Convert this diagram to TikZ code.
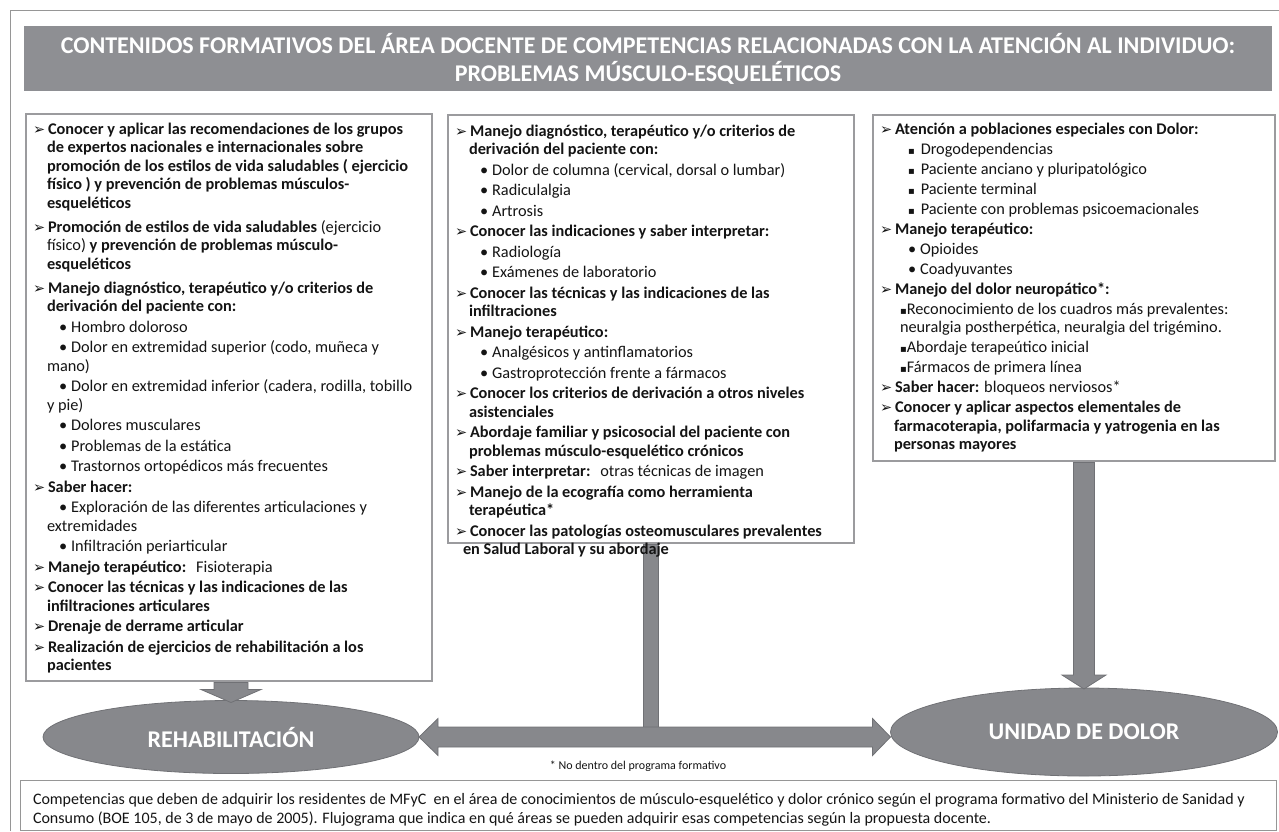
\documentclass[tikz,border=0pt]{standalone}
\usepackage{fontspec}
\setmainfont{Carlito}
\newfontfamily\dejavu{DejaVu Sans}
\usetikzlibrary{calc,shapes.geometric}
\definecolor{fillgray}{RGB}{135,136,140}
\definecolor{edgegray}{RGB}{112,113,117}
\definecolor{bannergray}{RGB}{142,143,147}
\definecolor{panelgray}{RGB}{155,155,158}
\definecolor{framegray}{RGB}{150,150,150}
\definecolor{txt}{RGB}{20,20,20}
\newcommand{\ar}{\makebox[15pt][l]{\dejavu\mdseries\fontsize{14.5}{14.5}\selectfont ➢}}
\newcommand{\nm}[1]{{\mdseries #1}}
\newcommand{\bl}{•\hspace{4pt}}
\newcommand{\sqb}{{\dejavu\fontsize{10}{10}\selectfont ▪}}
\begin{document}
\begin{tikzpicture}[x=1pt,y=-1pt,
  every node/.style={inner sep=0pt, outer sep=0pt},
  panel/.style={draw=panelgray, line width=2.5pt, fill=white, rectangle, anchor=north west},
  txtblock/.style={anchor=north west, align=left, font=\bfseries\fontsize{16.3}{18.5}\selectfont, text=txt},
  oval/.style={ellipse, fill=fillgray, draw=edgegray, line width=0.8pt, text=white, font=\bfseries\fontsize{24}{28}\selectfont},
  blockarrow/.style={fill=fillgray, draw=edgegray, line width=0.8pt, line join=miter},
]
\useasboundingbox (0,0) rectangle (1279,831);
% outer frame
\draw[framegray, line width=0.8pt] (10,831) -- (10,10) -- (1279,10);
% title banner
\node[fill=bannergray, minimum width=1248pt, minimum height=65pt, text=white, align=center,
      font=\bfseries\fontsize{24}{28}\selectfont] (title) at (648,58.5)
  {CONTENIDOS FORMATIVOS DEL ÁREA DOCENTE DE COMPETENCIAS RELACIONADAS CON LA ATENCIÓN AL INDIVIDUO:\\
   PROBLEMAS MÚSCULO-ESQUELÉTICOS};
% panels
\node[panel, minimum width=406pt, minimum height=567pt] (lbox) at (26,114) {};
\node[panel, minimum width=406pt, minimum height=428pt] (mbox) at (448,115) {};
\node[panel, minimum width=402pt, minimum height=346pt] (rbox) at (873,115) {};
% ovals
\node[oval, minimum width=376pt, minimum height=73pt] (reh) at (231,737) {REHABILITACIÓN};
\node[oval, minimum width=387pt, minimum height=88pt] (dol) at (1084,732) {UNIDAD DE DOLOR};
% left arrow
\draw[blockarrow] ($(lbox.south -| reh.north)+(-17,1.5)$) -- ($(reh.north)+(-17,-11)$) -- ($(reh.north)+(-30,-11)$)
  -- ($(reh.north)+(0,2)$) -- ($(reh.north)+(30,-11)$) -- ($(reh.north)+(17,-11)$) -- ($(lbox.south -| reh.north)+(17,1.5)$) -- cycle;
% right arrow
\draw[blockarrow] ($(rbox.south -| dol.north)+(-10.5,1.5)$) -- ($(dol.north)+(-10.5,-13)$) -- ($(dol.north)+(-22,-13)$)
  -- ($(dol.north)+(0,1)$) -- ($(dol.north)+(22,-13)$) -- ($(dol.north)+(10.5,-13)$) -- ($(rbox.south -| dol.north)+(10.5,1.5)$) -- cycle;
% middle bar and double arrow
\coordinate (jt) at ($(mbox.south |- reh.east)+(0,-10)$);
\draw[blockarrow] ($(mbox.south)+(-7.5,1.5)$) rectangle ($(jt)+(7.5,0)$);
\draw[blockarrow] (reh.east) -- ($(reh.east)+(19,-18.5)$) -- ($(reh.east)+(19,-10)$)
  -- ($(dol.west |- reh.east)+(-18,-10)$) -- ($(dol.west |- reh.east)+(-18,-18.5)$) -- (dol.west |- reh.east)
  -- ($(dol.west |- reh.east)+(-18,18.5)$) -- ($(dol.west |- reh.east)+(-18,10)$)
  -- ($(reh.east)+(19,10)$) -- ($(reh.east)+(19,18.5)$) -- cycle;
% left text
\node[txtblock] (ltext) at (33,118) {\rule{0pt}{16pt}\ar Conocer y aplicar las recomendaciones de los grupos\\
\hspace*{14pt}de expertos nacionales e internacionales sobre\\
\hspace*{14pt}promoción de los estilos de vida saludables ( ejercicio\\
\hspace*{14pt}físico ) y prevención de problemas músculos-\\
\hspace*{14pt}esqueléticos\\[5.5pt]
\ar Promoción de estilos de vida saludables \nm{(ejercicio}\\
\hspace*{14pt}\nm{físico)} y prevención de problemas músculo-\\
\hspace*{14pt}esqueléticos\\[5.5pt]
\ar Manejo diagnóstico, terapéutico y/o criterios de\\
\hspace*{14pt}derivación del paciente con:\\[2pt]
\hspace*{26pt}\nm{\bl Hombro doloroso}\\[2pt]
\hspace*{26pt}\nm{\bl Dolor en extremidad superior (codo, muñeca y}\\
\hspace*{14pt}\nm{mano)}\\[2pt]
\hspace*{26pt}\nm{\bl Dolor en extremidad inferior (cadera, rodilla, tobillo}\\
\hspace*{14pt}\nm{y pie)}\\[2pt]
\hspace*{26pt}\nm{\bl Dolores musculares}\\[2pt]
\hspace*{26pt}\nm{\bl Problemas de la estática}\\[2pt]
\hspace*{26pt}\nm{\bl Trastornos ortopédicos más frecuentes}\\[2pt]
\ar Saber hacer:\\[2pt]
\hspace*{26pt}\nm{\bl Exploración de las diferentes articulaciones y}\\
\hspace*{14pt}\nm{extremidades}\\[2pt]
\hspace*{26pt}\nm{\bl Infiltración periarticular}\\[2pt]
\ar Manejo terapéutico: \nm{ Fisioterapia}\\[2pt]
\ar Conocer las técnicas y las indicaciones de las\\
\hspace*{14pt}infiltraciones articulares\\[2pt]
\ar Drenaje de derrame articular\\[2pt]
\ar Realización de ejercicios de rehabilitación a los\\
\hspace*{14pt}pacientes};
% middle text
\node[txtblock] (mtext) at (455,120) {\rule{0pt}{16pt}\ar Manejo diagnóstico, terapéutico y/o criterios de\\
\hspace*{14pt}derivación del paciente con:\\[2pt]
\hspace*{25pt}\nm{\bl Dolor de columna (cervical, dorsal o lumbar)}\\[2pt]
\hspace*{25pt}\nm{\bl Radiculalgia}\\[2pt]
\hspace*{25pt}\nm{\bl Artrosis}\\[2pt]
\ar Conocer las indicaciones y saber interpretar:\\[2pt]
\hspace*{25pt}\nm{\bl Radiología}\\[2pt]
\hspace*{25pt}\nm{\bl Exámenes de laboratorio}\\[2pt]
\ar Conocer las técnicas y las indicaciones de las\\
\hspace*{14pt}infiltraciones\\[2pt]
\ar Manejo terapéutico:\\[2pt]
\hspace*{25pt}\nm{\bl Analgésicos y antinflamatorios}\\[2pt]
\hspace*{25pt}\nm{\bl Gastroprotección frente a fármacos}\\[2pt]
\ar Conocer los criterios de derivación a otros niveles\\
\hspace*{14pt}asistenciales\\[2pt]
\ar Abordaje familiar y psicosocial del paciente con\\
\hspace*{14pt}problemas músculo-esquelético crónicos\\[2pt]
\ar Saber interpretar: \nm{ otras técnicas de imagen}\\[2pt]
\ar Manejo de la ecografía como herramienta\\
\hspace*{14pt}terapéutica*\\[2pt]
\ar Conocer las patologías osteomusculares prevalentes\\
\hspace*{8pt}en Salud Laboral y su abordaje};
% right text
\node[txtblock] (rtext) at (880,118) {\rule{0pt}{16pt}\ar Atención a poblaciones especiales con Dolor:\\[1.5pt]
\hspace*{28pt}\nm{\sqb\hspace{6pt}Drogodependencias}\\[1.5pt]
\hspace*{28pt}\nm{\sqb\hspace{6pt}Paciente anciano y pluripatológico}\\[1.5pt]
\hspace*{28pt}\nm{\sqb\hspace{6pt}Paciente terminal}\\[1.5pt]
\hspace*{28pt}\nm{\sqb\hspace{6pt}Paciente con problemas psicoemacionales}\\[1.5pt]
\ar Manejo terapéutico:\\[1.5pt]
\hspace*{28pt}\nm{\bl Opioides}\\[1.5pt]
\hspace*{28pt}\nm{\bl Coadyuvantes}\\[1.5pt]
\ar Manejo del dolor neuropático*:\\[1.5pt]
\hspace*{20pt}\nm{\sqb Reconocimiento de los cuadros más prevalentes:}\\
\hspace*{20pt}\nm{neuralgia postherpética, neuralgia del trigémino.}\\[1.5pt]
\hspace*{20pt}\nm{\sqb Abordaje terapeútico inicial}\\[1.5pt]
\hspace*{20pt}\nm{\sqb Fármacos de primera línea}\\[1.5pt]
\ar Saber hacer: \nm{bloqueos nerviosos*}\\[1.5pt]
\ar Conocer y aplicar aspectos elementales de\\
\hspace*{14pt}farmacoterapia, polifarmacia y yatrogenia en las\\
\hspace*{14pt}personas mayores};
% footnote
\node[font=\fontsize{12}{14}\selectfont, text=txt] (fn) at (638,766) {* No dentro del programa formativo};
% caption
\node[draw=framegray, line width=0.8pt, minimum width=1256pt, minimum height=50pt, anchor=north west] (cap) at (20,780) {};
\node[anchor=north west, align=left, font=\fontsize{16}{19}\selectfont, text=txt] (captext) at (33,789)
  {\rule{0pt}{15pt}Competencias que deben de adquirir los residentes de MFyC\ \ en el área de conocimientos de músculo-esquelético y dolor crónico según el programa formativo del Ministerio de Sanidad y\\
   Consumo (BOE 105, de 3 de mayo de 2005). Flujograma que indica en qué áreas se pueden adquirir esas competencias según la propuesta docente.};
\end{tikzpicture}
\end{document}
